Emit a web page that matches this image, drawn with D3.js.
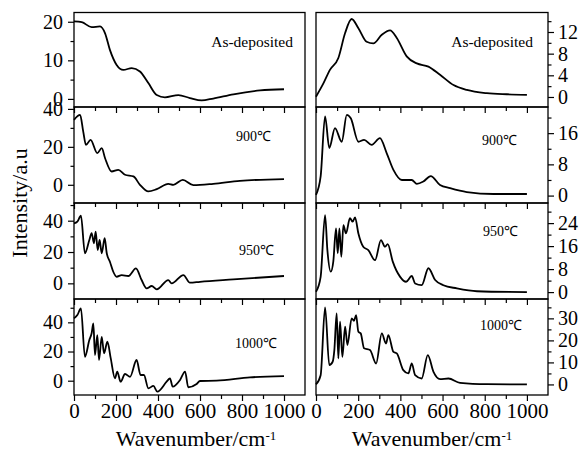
<!DOCTYPE html>
<html>
<head>
<meta charset="utf-8">
<script src="https://cdn.jsdelivr.net/npm/d3@7"></script>
<style>
  body { margin: 0; background: #fff; }
  text { font-family: "Liberation Serif", "Times New Roman", serif; }
</style>
</head>
<body>
<div id="chart"></div>
<script>
// Wavenumber (cm-1) and intensity values
var depLeftX = [0, 37, 84, 124, 148, 171, 203, 235, 275, 314, 354, 394, 433, 497, 552, 608, 663, 759, 886, 1000];
var depLeftY = [20.1, 19.9, 18.6, 18.8, 17, 12.7, 8.8, 7.5, 8, 7.1, 4.1, 1, 0.4, 1, 0.2, -0.4, 0.1, 1.2, 2.2, 2.5];

var depRightX = [0, 35, 66, 106, 138, 169, 201, 240, 272, 312, 351, 383, 430, 478, 533, 588, 652, 715, 810, 905, 1000];
var depRightY = [0.05, 2.5, 5, 7.2, 11.8, 14.4, 12.7, 10.2, 9.9, 11.5, 12.3, 10.9, 7.5, 6.2, 5.6, 4.1, 2.2, 1.3, 0.7, 0.5, 0.4];

var t900LeftX = [0, 29, 44, 57, 79, 111, 132, 148, 179, 211, 243, 283, 314, 354, 394, 449, 473, 518, 568, 663, 790, 1000];
var t900LeftY = [34.2, 36.8, 28, 21, 23.7, 16.7, 19.3, 14, 7, 7.9, 5.3, 4.4, 0, -3.5, -2.3, 0.5, 0, 2.6, -0.2, 0.5, 2.1, 3];

var t900RightX = [0, 22, 43, 63, 90, 122, 146, 165, 201, 228, 264, 303, 335, 367, 407, 454, 478, 509, 544, 588, 636, 715, 842, 1000];
var t900RightY = [0.2, 4.9, 20.3, 12.2, 17.3, 13.8, 20.7, 19.8, 13.8, 14.3, 13, 14.7, 10.9, 6.6, 4, 4, 3, 3.6, 5, 2.7, 1.9, 0.9, 0.4, 0.4];

var t950LeftX = [0, 16, 33, 52, 73, 84, 95, 103, 113, 122, 132, 146, 156, 171, 187, 203, 227, 259, 295, 322, 346, 370, 394, 449, 465, 521, 552, 600, 759, 1000];
var t950LeftY = [38.3, 39.4, 43.2, 19.2, 27.7, 32, 25.6, 33, 21.3, 27.7, 19.2, 28.8, 19.2, 13.8, 7.4, 4.2, 5.3, 4.7, 9.6, 2.1, -3.2, -1.7, -3.8, 2.1, 0, 5.3, 0.4, 1, 2.5, 4.7];

var t950RightX = [0, 22, 43, 54, 70, 82, 95, 103, 111, 120, 130, 142, 161, 174, 185, 201, 224, 248, 280, 308, 327, 340, 364, 399, 427, 454, 470, 501, 533, 565, 604, 668, 763, 1000];
var t950RightY = [0.1, 5.3, 26.8, 14.6, 7.1, 10.6, 22.2, 13.5, 22.2, 12.3, 23.3, 20.4, 25.7, 24.5, 26, 20.4, 15.8, 14.6, 11.1, 18.1, 15.8, 16.7, 10.6, 5.3, 3.6, 5.6, 3, 2.4, 8.3, 4.2, 2.4, 1.3, 0.3, 0];

var t1000LeftX = [0, 16, 33, 52, 73, 84, 92, 100, 111, 119, 132, 143, 159, 175, 195, 206, 222, 243, 267, 298, 317, 333, 354, 378, 397, 441, 457, 470, 505, 529, 544, 584, 600, 679, 838, 1000];
var t1000LeftY = [42.7, 45, 49.6, 16.4, 27.9, 32.5, 39.3, 17.6, 31.3, 14.2, 30.1, 18.8, 26.7, 15.3, 1.6, 6.2, -0.7, 4.6, 2.7, 14.2, 3.9, 3.9, -5.2, -3.6, -7.5, -0.7, 1.6, -4.1, 0.5, 6.2, -4.5, -2.3, -0.2, 0, 2.3, 3.2];

var t1000RightX = [0, 22, 43, 63, 79, 87, 98, 106, 114, 125, 138, 149, 169, 180, 190, 201, 212, 228, 256, 285, 312, 332, 343, 367, 383, 414, 438, 454, 470, 501, 530, 557, 588, 628, 683, 810, 1000];
var t1000RightY = [0, 4.2, 35, 8.8, 10.3, 15.6, 32.3, 11.8, 28.5, 12.5, 26.2, 17.9, 30, 28.9, 31.5, 23.9, 23.2, 16.4, 15.6, 9.5, 23.2, 18.6, 22.4, 14.8, 14.1, 6.5, 5, 9.5, 4.2, 2.7, 13.3, 5.7, 2.4, 2.7, 0.7, 0.1, 0];

var panelNames = ["As-deposited", "900℃", "950℃", "1000℃"];
var xTicks = [0, 200, 400, 600, 800, 1000];
var xMinor = [100, 300, 500, 700, 900];

var leftDomains = [[-2.1, 22.4], [-9.6, 41], [-10, 51.3], [-9.8, 56]];
var leftTicks = [[0, 10, 20], [0, 20, 40], [0, 20, 40], [0, 20, 40]];
var leftMinor = [[5, 15], [10, 30], [10, 30, 50], [10, 30, 50]];

var rightDomains = [[-1.85, 15.6], [-1.9, 22.7], [-2.4, 31], [-4.8, 38.8]];
var rightTicks = [[0, 4, 8, 12], [0, 8, 16], [0, 8, 16, 24], [0, 10, 20, 30]];
var rightMinor = [[2, 6, 10, 14], [4, 12, 20], [4, 12, 20, 28], [5, 15, 25, 35]];

var leftSeries = [[depLeftX, depLeftY], [t900LeftX, t900LeftY], [t950LeftX, t950LeftY], [t1000LeftX, t1000LeftY]];
var rightSeries = [[depRightX, depRightY], [t900RightX, t900RightY], [t950RightX, t950RightY], [t1000RightX, t1000RightY]];

var width = 581, height = 450;
var rowEdges = [12.5, 107, 203, 299, 395];

var svg = d3.select("#chart").append("svg")
	.attr("width", width)
	.attr("height", height);

var xLeft = d3.scaleLinear().domain([0, 1100]).range([74, 305]);
var xRight = d3.scaleLinear().domain([0, 1100]).range([316, 548]);

// label positions, right-aligned (left column, right column)
var labelPos = [
	{lx: 293, ly: 47, rx: 533, ry: 47},
	{lx: 271, ly: 141, rx: 517, ry: 145},
	{lx: 274, ly: 255, rx: 518, ry: 236},
	{lx: 277, ly: 348, rx: 522, ry: 330}
];

function styleAxis(g, size) {
	g.select(".domain").remove();
	g.selectAll("line").attr("stroke", "#000").attr("stroke-width", 1.2);
	g.selectAll("text")
		.attr("fill", "#000")
		.style("font-family", "'Liberation Serif', 'Times New Roman', serif")
		.style("font-size", size + "px");
}

function drawPanel(i, x, domain, ticks, minor, series, side) {
	var top = rowEdges[i], bottom = rowEdges[i + 1];
	var y = d3.scaleLinear().domain(domain).range([bottom, top]);
	var x0 = x.range()[0], x1 = x.range()[1];

	// x ticks pointing outward (down) at bottom of panel
	var gx = svg.append("g").attr("transform", "translate(0," + bottom + ")");
	gx.call(d3.axisBottom(x).tickValues(xTicks).tickSize(6).tickPadding(2)
		.tickFormat(i === 3 ? d3.format("d") : function() { return ""; }));
	styleAxis(gx, 21);
	gx.selectAll("text").attr("dy", "0.71em");
	var gxm = svg.append("g").attr("transform", "translate(0," + bottom + ")");
	gxm.call(d3.axisBottom(x).tickValues(xMinor).tickSize(4).tickFormat(""));
	styleAxis(gxm, 10);

	// y ticks outward
	var axisMaker = side === "left" ? d3.axisLeft : d3.axisRight;
	var gy = svg.append("g").attr("transform", "translate(" + (side === "left" ? x0 : x1) + ",0)");
	gy.call(axisMaker(y).tickValues(ticks).tickSize(6).tickPadding(side === "left" ? 5 : 4).tickFormat(d3.format("d")));
	styleAxis(gy, 20);
	var gym = svg.append("g").attr("transform", "translate(" + (side === "left" ? x0 : x1) + ",0)");
	gym.call(axisMaker(y).tickValues(minor).tickSize(3.5).tickFormat(""));
	styleAxis(gym, 10);

	// frame
	svg.append("rect")
		.attr("x", x0).attr("y", top)
		.attr("width", x1 - x0).attr("height", bottom - top)
		.attr("fill", "none").attr("stroke", "#000").attr("stroke-width", 1.3);

	var pts = series[0].map(function(d, k) { return [d, series[1][k]]; });
	var line = d3.line()
		.curve(d3.curveMonotoneX)
		.x(function(d) { return x(d[0]); })
		.y(function(d) { return y(d[1]); });

	svg.append("path")
		.datum(pts)
		.attr("d", line)
		.attr("fill", "none")
		.attr("stroke", "#000")
		.attr("stroke-width", 1.8)
		.attr("stroke-linejoin", "round");

	var lp = labelPos[i];
	svg.append("text")
		.attr("x", side === "left" ? lp.lx : lp.rx)
		.attr("y", side === "left" ? lp.ly : lp.ry)
		.attr("text-anchor", "end")
		.style("font-size", i === 0 ? "15.5px" : "14px")
		.text(panelNames[i]);
}

for (var i = 0; i < 4; i++) {
	drawPanel(i, xLeft, leftDomains[i], leftTicks[i], leftMinor[i], leftSeries[i], "left");
	drawPanel(i, xRight, rightDomains[i], rightTicks[i], rightMinor[i], rightSeries[i], "right");
}

// axis titles
[[196, xLeft], [432, xRight]].forEach(function(p) {
	var t = svg.append("text")
		.attr("x", p[0])
		.attr("y", 446)
		.attr("text-anchor", "middle")
		.style("font-size", "22px");
	t.append("tspan").text("Wavenumber/cm");
	t.append("tspan").attr("dy", "-0.45em").style("font-size", "13px").text("-1");
});

svg.append("text")
	.attr("transform", "translate(27,203) rotate(-90)")
	.attr("text-anchor", "middle")
	.style("font-size", "22px")
	.text("Intensity/a.u");
</script>
</body>
</html>
